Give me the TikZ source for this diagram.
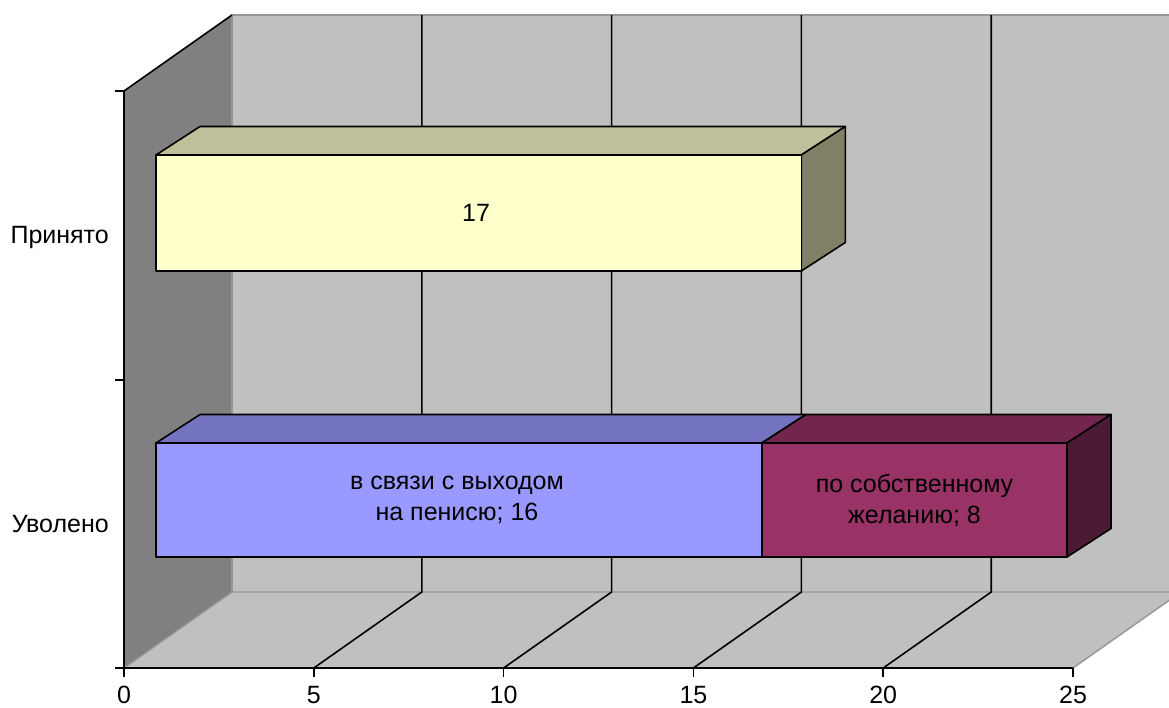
\documentclass[tikz,border=0pt]{standalone}
\usepackage{fontspec}
\setmainfont{Liberation Sans}
\definecolor{wallside}{RGB}{128,128,128}
\definecolor{wallback}{RGB}{192,192,192}
\definecolor{walledge}{RGB}{150,150,150}
\definecolor{yelfront}{RGB}{255,255,204}
\definecolor{yeltop}{RGB}{191,191,153}
\definecolor{yelside}{RGB}{128,128,102}
\definecolor{bluefront}{RGB}{153,153,255}
\definecolor{bluetop}{RGB}{115,115,191}
\definecolor{magfront}{RGB}{153,51,102}
\definecolor{magtop}{RGB}{115,38,77}
\definecolor{magside}{RGB}{77,26,51}
\tikzset{
  barline/.style={draw=black,line width=1.6pt,line join=round},
  gridline/.style={black,line width=1.6pt},
  edgeline/.style={walledge,line width=1.4pt},
  axisline/.style={black,line width=1.6pt},
  lbl/.style={font=\fontsize{25}{31}\selectfont,align=center,inner sep=0pt}
}
\newcommand{\barbox}[7]{% x0, x1, ytop, ybot, front, top, side
  \draw[barline,fill=#6] (#1,#3) -- ++(44,-28.5) -- (#2+44,#3-28.5) -- (#2,#3) -- cycle;
  \draw[barline,fill=#7] (#2,#3) -- ++(44,-28.5) -- (#2+44,#4-28.5) -- (#2,#4) -- cycle;
  \draw[barline,fill=#5] (#1,#3) rectangle (#2,#4);
}
\begin{document}
\begin{tikzpicture}[x=1pt,y=-1pt]
\useasboundingbox (0,0) rectangle (1169,707);
\begin{scope}
  \clip (0,0) rectangle (1169,707);
  \fill[wallback] (232,15) rectangle (1181,592);
  \fill[wallback] (124,668) -- (1073,668) -- (1181,592) -- (232,592) -- cycle;
  \fill[wallside] (124,91) -- (232,15) -- (232,592) -- (124,668) -- cycle;
  \draw[edgeline] (232,592) -- (232,15) -- (1181,15);
  \draw[edgeline] (124,668) -- (232,592) -- (1181,592);
  \draw[edgeline] (1073,668) -- (1181,592);
\end{scope}
\foreach \k in {1,...,4}
  \draw[gridline] ({232+\k*189.8},15) -- ({232+\k*189.8},592) -- ({124+\k*189.8},668);
\draw[axisline] (232,15) -- (124,91) -- (124,668) -- (1073,668);
\foreach \y in {91,380,668}
  \draw[axisline] (115,\y) -- (124,\y);
\foreach \k/\v in {0/0,1/5,2/10,3/15,4/20,5/25} {
  \draw[axisline] ({124+\k*189.8},668) -- ++(0,9);
  \node[lbl] (t\k) at ({124+\k*189.8},695) {\v};
}
\node[lbl,anchor=east] (accepted) at (109,237) {Принято};
\node[lbl,anchor=east] (dismissed) at (109,524) {Уволено};
\barbox{156}{801.3}{155}{271}{yelfront}{yeltop}{yelside}
\barbox{156}{762}{443}{557}{bluefront}{bluetop}{bluetop}
\barbox{762}{1067}{443}{557}{magfront}{magtop}{magside}
\node[lbl] (v17) at (476,213) {17};
\node[lbl] (pension) at (457,500) {в связи с выходом\\на пенисю; 16};
\node[lbl] (own) at (914.5,500) {по собственному\\желанию; 8};
\end{tikzpicture}
\end{document}
